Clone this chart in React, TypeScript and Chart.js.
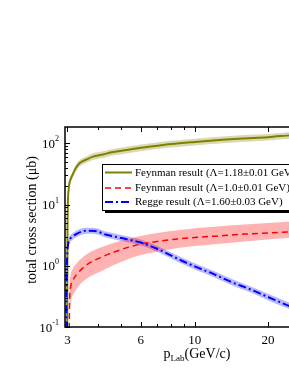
import React, { useEffect, useRef } from 'react';
import { Chart, registerables } from 'chart.js';
Chart.register(...registerables);

// Feynman result, Lambda = 1.18 GeV (olive)
const P_F118 = [2.99, 3.0, 3.01, 3.03, 3.06, 3.1, 3.15, 3.25, 3.37, 3.6, 3.82, 4.2, 4.5, 5, 6, 7, 8, 10, 13, 16, 20, 25, 30, 36];
const F118 = [0.05, 3, 10, 17, 23, 27, 31, 40, 48, 55, 61, 66, 71, 76, 85, 92, 98, 106, 115, 121, 127, 137, 143, 149];
const F118_HI = [0.06, 3.4, 11.3, 19.2, 26, 30.5, 35, 45, 54, 62, 69, 74.5, 80, 86, 96, 104, 111, 120, 130, 137, 143, 154, 161, 168];
const F118_LO = [0.04, 2.6, 8.8, 15, 20.2, 23.8, 27.3, 35, 42, 48.4, 53.7, 58, 62.5, 67, 75, 81, 86, 93, 101, 106.5, 112, 121, 126, 131];

// Feynman result, Lambda = 1.0 GeV (red)
const P_F10 = [3.04, 3.06, 3.09, 3.15, 3.27, 3.6, 4.08, 4.7, 5.8, 7, 8.5, 10, 12, 16, 20, 25, 30, 36];
const F10 = [0.03, 0.25, 0.45, 0.57, 0.72, 1.04, 1.35, 1.7, 2.2, 2.5, 2.75, 2.9, 3.05, 3.3, 3.45, 3.6, 3.7, 3.8];
const F10_HI = [0.05, 0.4, 0.7, 0.88, 1.1, 1.55, 1.97, 2.4, 3.0, 3.45, 3.8, 4.1, 4.35, 4.75, 5.0, 5.3, 5.5, 5.7];
const F10_LO = [0.015, 0.13, 0.25, 0.32, 0.42, 0.62, 0.8, 1.05, 1.45, 1.7, 1.95, 2.1, 2.25, 2.5, 2.7, 2.9, 3.0, 3.1];

// Regge result (blue)
const P_REG = [2.965, 2.975, 2.99, 3.01, 3.05, 3.15, 3.3, 3.6, 3.9, 4.3, 5, 6, 7, 8.9, 10, 12, 14.2, 17, 20, 25.2, 30, 36];
const REG = [0.05, 0.6, 1.4, 2.1, 2.6, 3.0, 3.4, 3.75, 3.7, 3.25, 2.85, 2.4, 1.9, 1.2, 0.98, 0.73, 0.54, 0.41, 0.31, 0.21, 0.16, 0.12];
const REG_HI = [0.06, 0.7, 1.6, 2.4, 2.95, 3.4, 3.85, 4.2, 4.15, 3.65, 3.2, 2.7, 2.13, 1.35, 1.1, 0.82, 0.61, 0.46, 0.35, 0.24, 0.18, 0.135];
const REG_LO = [0.04, 0.5, 1.25, 1.87, 2.3, 2.68, 3.03, 3.35, 3.3, 2.9, 2.54, 2.14, 1.7, 1.07, 0.87, 0.65, 0.48, 0.365, 0.275, 0.187, 0.143, 0.107];

const X_MAJOR = [3, 6, 10, 20];
const X_LABELS = ['3', '6', '10', '20'];
const X_MINOR = [4, 5, 7, 8, 9, 30];
const Y_DECADES = [0.1, 1, 10, 100];
const Y_EXP = ['-1', '0', '1', '2'];
const LEGEND = [
  'Feynman result (Λ=1.18±0.01 GeV)',
  'Feynman result (Λ=1.0±0.01 GeV)',
  'Regge result (Λ=1.60±0.03 GeV)',
];
const X_TITLE = ['p', 'Lab', '(GeV/c)'];
const Y_TITLE = 'total cross section (μb)';

const OLIVE = '#808000';
const RED = '#ff0000';
const BLUE = '#0000ff';
const FONT = '"Liberation Serif", "Times New Roman", serif';

const pts = (xs: number[], ys: number[]) => xs.map((x, i) => ({ x, y: ys[i] }));

const decor = {
  id: 'decor',
  afterDatasetsDraw(chart: any) {
    const { ctx, chartArea: a } = chart;
    const xs = chart.scales.x;
    const ys = chart.scales.y;
    ctx.save();

    // legend
    const lx = 102, ly = 164, lh = 46;
    ctx.font = `11px ${FONT}`;
    const tw = Math.max(...LEGEND.map((t) => ctx.measureText(t).width));
    const lw = 33 + tw + 5;
    ctx.fillStyle = '#000';
    ctx.fillRect(lx + 3, ly + 3, lw, lh);
    ctx.fillStyle = '#fff';
    ctx.fillRect(lx, ly, lw, lh);
    ctx.strokeStyle = '#000';
    ctx.lineWidth = 1;
    ctx.strokeRect(lx + 0.5, ly + 0.5, lw, lh);
    const rowsY = [172.5, 188, 202];
    const styles = [
      { c: OLIVE, d: [] as number[], w: 2 },
      { c: RED, d: [6, 4], w: 1.5 },
      { c: BLUE, d: [8, 3, 2, 3], w: 2 },
    ];
    styles.forEach((s, i) => {
      ctx.beginPath();
      ctx.setLineDash(s.d);
      ctx.strokeStyle = s.c;
      ctx.lineWidth = s.w;
      ctx.moveTo(lx + 3, rowsY[i]);
      ctx.lineTo(lx + 30, rowsY[i]);
      ctx.stroke();
      ctx.setLineDash([]);
      ctx.fillStyle = '#000';
      ctx.textAlign = 'left';
      ctx.textBaseline = 'middle';
      ctx.fillText(LEGEND[i], lx + 33, rowsY[i] + 0.5);
    });

    // frame
    ctx.strokeStyle = '#000';
    ctx.lineWidth = 1.5;
    ctx.strokeRect(a.left, a.top, a.right - a.left, a.bottom - a.top);

    // ticks (inward)
    ctx.lineWidth = 1;
    const vtick = (x: number, len: number) => {
      ctx.beginPath();
      ctx.moveTo(x, a.bottom);
      ctx.lineTo(x, a.bottom - len);
      ctx.moveTo(x, a.top);
      ctx.lineTo(x, a.top + len);
      ctx.stroke();
    };
    const htick = (y: number, len: number) => {
      ctx.beginPath();
      ctx.moveTo(a.left, y);
      ctx.lineTo(a.left + len, y);
      ctx.moveTo(a.right, y);
      ctx.lineTo(a.right - len, y);
      ctx.stroke();
    };
    X_MAJOR.forEach((v) => vtick(Math.round(xs.getPixelForValue(v)) + 0.5, 5));
    X_MINOR.forEach((v) => vtick(Math.round(xs.getPixelForValue(v)) + 0.5, 3));
    Y_DECADES.forEach((d) => {
      htick(Math.round(ys.getPixelForValue(d)) + 0.5, 5);
      for (let m = 2; m <= 9; m++) {
        const v = d * m;
        if (v > ys.max) break;
        htick(Math.round(ys.getPixelForValue(v)) + 0.5, 3);
      }
    });

    // x tick labels
    ctx.fillStyle = '#000';
    ctx.font = `13px ${FONT}`;
    ctx.textAlign = 'center';
    ctx.textBaseline = 'alphabetic';
    X_MAJOR.forEach((v, i) => {
      ctx.fillText(X_LABELS[i], xs.getPixelForValue(v), a.bottom + 17);
    });

    // y tick labels with superscripts
    Y_DECADES.forEach((d, i) => {
      const y = ys.getPixelForValue(d);
      ctx.font = `8px ${FONT}`;
      const sw = ctx.measureText(Y_EXP[i]).width;
      ctx.textAlign = 'right';
      ctx.fillText(Y_EXP[i], 59, y - 2);
      ctx.font = `13px ${FONT}`;
      ctx.fillText('10', 59 - sw, y + 4.5);
    });

    // x title
    ctx.textAlign = 'left';
    ctx.font = `14px ${FONT}`;
    const w1 = ctx.measureText(X_TITLE[0]).width;
    const w3 = ctx.measureText(X_TITLE[2]).width;
    ctx.font = `9px ${FONT}`;
    const w2 = ctx.measureText(X_TITLE[1]).width;
    const total = w1 + w2 + w3;
    let tx = 197 - total / 2;
    const by = 358;
    ctx.font = `14px ${FONT}`;
    ctx.fillText(X_TITLE[0], tx, by);
    tx += w1;
    ctx.font = `9px ${FONT}`;
    ctx.fillText(X_TITLE[1], tx, by + 3);
    tx += w2;
    ctx.font = `14px ${FONT}`;
    ctx.fillText(X_TITLE[2], tx, by);

    // y title
    ctx.save();
    ctx.translate(32, 220);
    ctx.rotate(-Math.PI / 2);
    ctx.textAlign = 'center';
    ctx.textBaseline = 'middle';
    ctx.font = `14px ${FONT}`;
    ctx.fillText(Y_TITLE, 0, 0);
    ctx.restore();

    ctx.restore();
  },
};

export default function App() {
  const ref = useRef<HTMLCanvasElement>(null);
  useEffect(() => {
    if (!ref.current) return;
    const band = (xs: number[], hi: number[], lo: number[], color: string) => [
      {
        data: pts(xs, hi),
        borderWidth: 0,
        pointRadius: 0,
        backgroundColor: color,
        fill: '+1',
        order: 2,
        cubicInterpolationMode: 'monotone',
      },
      {
        data: pts(xs, lo),
        borderWidth: 0,
        pointRadius: 0,
        fill: false,
        order: 2,
        cubicInterpolationMode: 'monotone',
      },
    ];
    const chart = new Chart(ref.current, {
      type: 'line',
      data: {
        datasets: [
          ...band(P_F118, F118_HI, F118_LO, 'rgba(128,128,0,0.3)'),
          ...band(P_F10, F10_HI, F10_LO, 'rgba(255,0,0,0.3)'),
          ...band(P_REG, REG_HI, REG_LO, 'rgba(0,0,255,0.28)'),
          {
            data: pts(P_F118, F118),
            borderColor: OLIVE,
            borderWidth: 2,
            pointRadius: 0,
            fill: false,
            order: 1,
            cubicInterpolationMode: 'monotone',
          },
          {
            data: pts(P_F10, F10),
            borderColor: RED,
            borderWidth: 1.5,
            borderDash: [6, 4],
            pointRadius: 0,
            fill: false,
            order: 1,
            cubicInterpolationMode: 'monotone',
          },
          {
            data: pts(P_REG, REG),
            borderColor: BLUE,
            borderWidth: 2,
            borderDash: [8, 3, 2, 3],
            pointRadius: 0,
            fill: false,
            order: 0,
            cubicInterpolationMode: 'monotone',
          },
        ] as any,
      },
      options: {
        animation: false,
        responsive: false,
        maintainAspectRatio: false,
        layout: { padding: { left: 65, top: 127, right: 10, bottom: 47 } },
        plugins: { legend: { display: false }, tooltip: { enabled: false } },
        scales: {
          x: { type: 'logarithmic', min: 2.93, max: 36, bounds: 'data', display: false },
          y: { type: 'logarithmic', min: 0.1, max: 186, bounds: 'data', display: false },
        },
      } as any,
      plugins: [decor],
    });
    return () => chart.destroy();
  }, []);
  return (
    <div
      style={{
        position: 'fixed',
        left: 0,
        top: 0,
        width: 289,
        height: 374,
        overflow: 'hidden',
        background: '#fff',
      }}
    >
      <canvas ref={ref} width={340} height={374} style={{ display: 'block', width: 340, height: 374 }} />
    </div>
  );
}
